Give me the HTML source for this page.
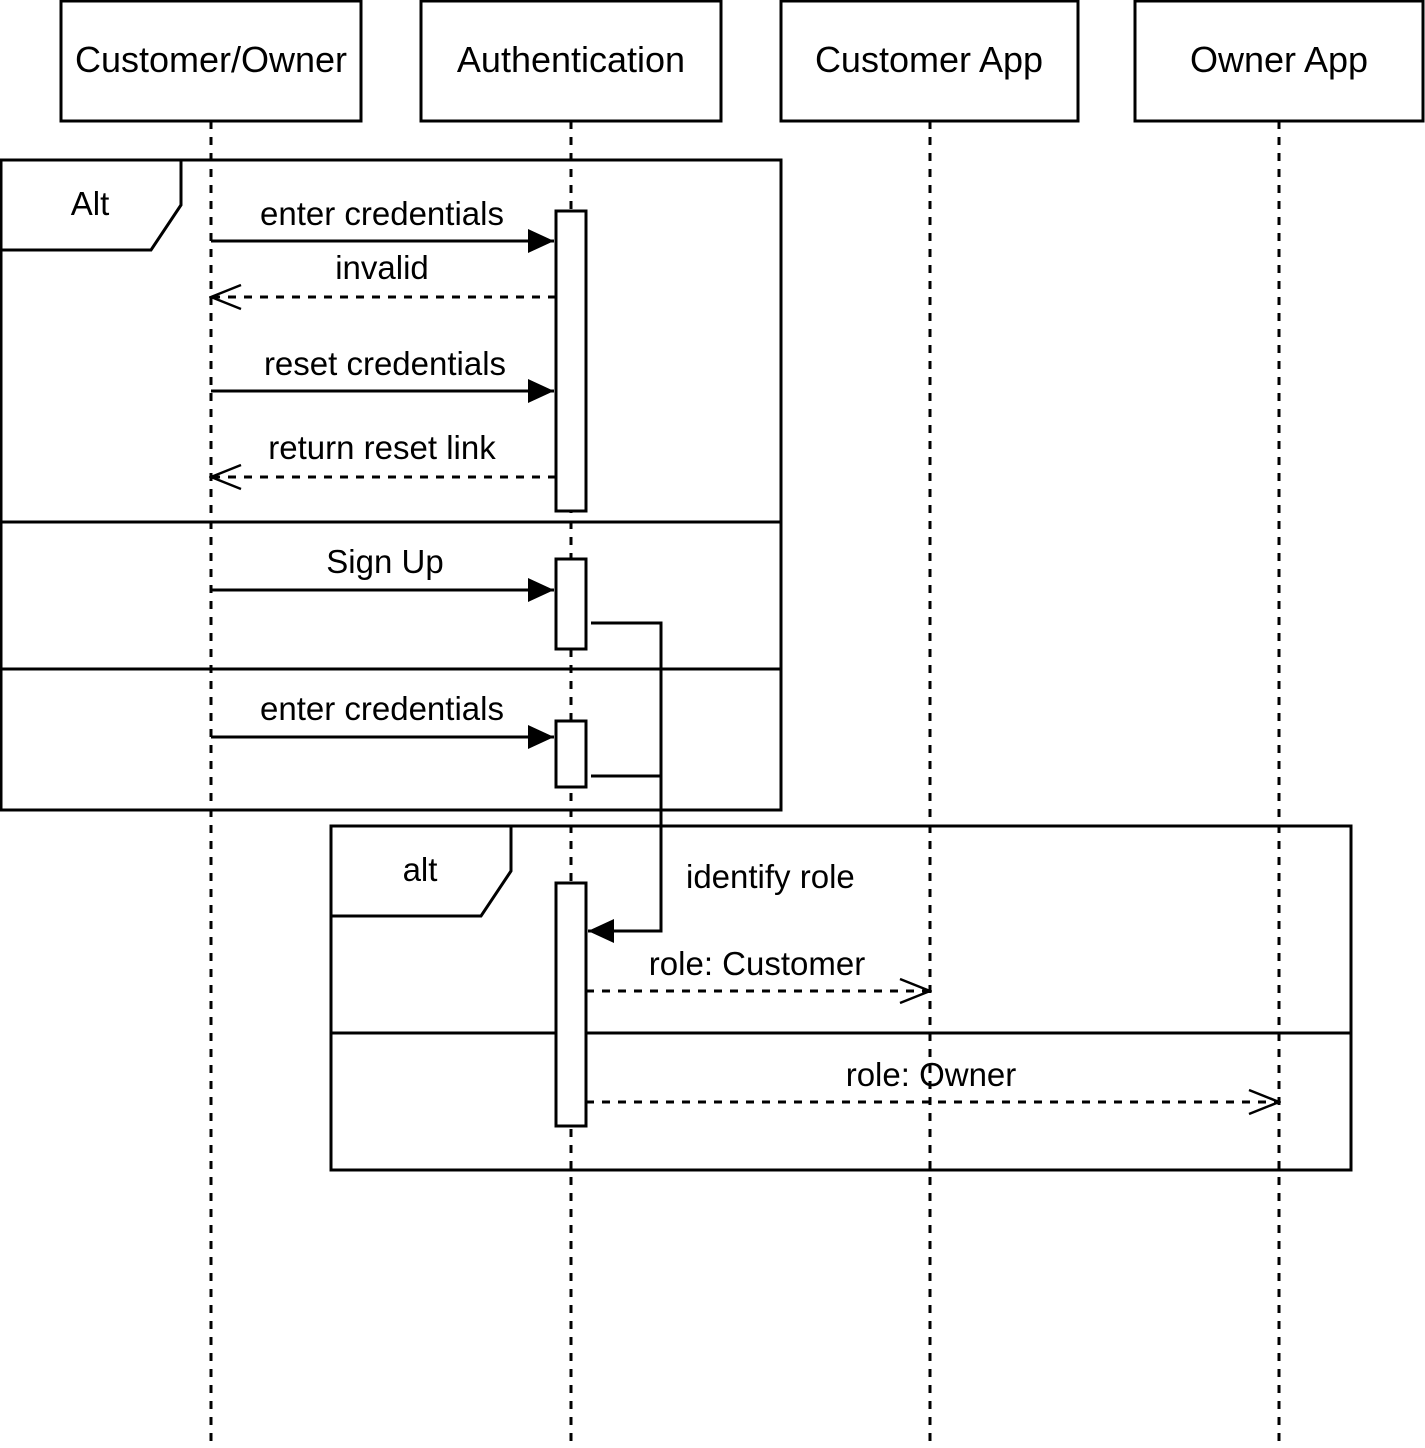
<!DOCTYPE html>
<html><head><style>html,body{margin:0;padding:0;background:#fff}</style></head><body>
<svg width="1425" height="1443" viewBox="0 0 1425 1443" xmlns="http://www.w3.org/2000/svg" font-family="Liberation Sans, Arial, sans-serif">
<defs>
<marker id="f2" markerWidth="26" markerHeight="24" refX="26" refY="12" orient="auto" markerUnits="userSpaceOnUse"><path d="M0,0 L26,12 L0,24 Z" fill="#000"/></marker>
<marker id="o" markerWidth="34" markerHeight="28" refX="32" refY="14" orient="auto" markerUnits="userSpaceOnUse"><path d="M2,2 L32,14 L2,26" fill="none" stroke="#000" stroke-width="2.5"/></marker>
</defs>
<g fill="none" stroke="#000" stroke-width="3">
<rect x="61" y="1" width="300" height="120" fill="#fff"/>
<rect x="421" y="1" width="300" height="120" fill="#fff"/>
<rect x="781" y="1" width="297" height="120" fill="#fff"/>
<rect x="1135" y="1" width="288" height="120" fill="#fff"/>
<g stroke-dasharray="8,8">
<line x1="211" y1="121" x2="211" y2="1443"/>
<line x1="571" y1="121" x2="571" y2="1443"/>
<line x1="930" y1="121" x2="930" y2="1443"/>
<line x1="1279" y1="121" x2="1279" y2="1443"/>
</g>
<rect x="1" y="160" width="780" height="650"/>
<path d="M1,250 L151,250 L181,205 L181,160"/>
<line x1="1" y1="522" x2="781" y2="522"/>
<line x1="1" y1="669" x2="781" y2="669"/>
<rect x="331" y="826" width="1020" height="344"/>
<path d="M331,916 L481,916 L511,871 L511,826"/>
<line x1="331" y1="1033" x2="1351" y2="1033"/>
<rect x="556" y="211" width="30" height="300" fill="#fff"/>
<rect x="556" y="559" width="30" height="90" fill="#fff"/>
<rect x="556" y="721" width="30" height="66" fill="#fff"/>
<rect x="556" y="883" width="30" height="243" fill="#fff"/>
<line x1="211" y1="241" x2="554" y2="241" marker-end="url(#f2)"/>
<line x1="556" y1="297" x2="211" y2="297" stroke-dasharray="8,8" marker-end="url(#o)"/>
<line x1="211" y1="391" x2="554" y2="391" marker-end="url(#f2)"/>
<line x1="556" y1="477" x2="211" y2="477" stroke-dasharray="8,8" marker-end="url(#o)"/>
<line x1="211" y1="590" x2="554" y2="590" marker-end="url(#f2)"/>
<line x1="211" y1="737" x2="554" y2="737" marker-end="url(#f2)"/>
<path d="M591,623 L661,623 L661,931 L588,931" marker-end="url(#f2)"/>
<path d="M591,776 L661,776"/>
<line x1="586" y1="991" x2="930" y2="991" stroke-dasharray="8,8" marker-end="url(#o)"/>
<line x1="586" y1="1102" x2="1279" y2="1102" stroke-dasharray="8,8" marker-end="url(#o)"/>
</g>
<g font-size="36" text-anchor="middle" fill="#000">
<text x="211" y="72">Customer/Owner</text>
<text x="571" y="72">Authentication</text>
<text x="929" y="72">Customer App</text>
<text x="1279" y="72">Owner App</text>
</g>
<g font-size="33" text-anchor="middle" fill="#000">
<text x="90" y="215">Alt</text>
<text x="420" y="881">alt</text>
</g>
<g font-size="33" text-anchor="middle" fill="#000">
<text x="382" y="225">enter credentials</text>
<text x="382" y="279">invalid</text>
<text x="385" y="375">reset credentials</text>
<text x="382" y="459">return reset link</text>
<text x="385" y="573">Sign Up</text>
<text x="382" y="720">enter credentials</text>
<text x="757" y="975">role: Customer</text>
<text x="931" y="1086">role: Owner</text>
<text x="686" y="888" text-anchor="start">identify role</text>
</g>
</svg>
</body></html>
